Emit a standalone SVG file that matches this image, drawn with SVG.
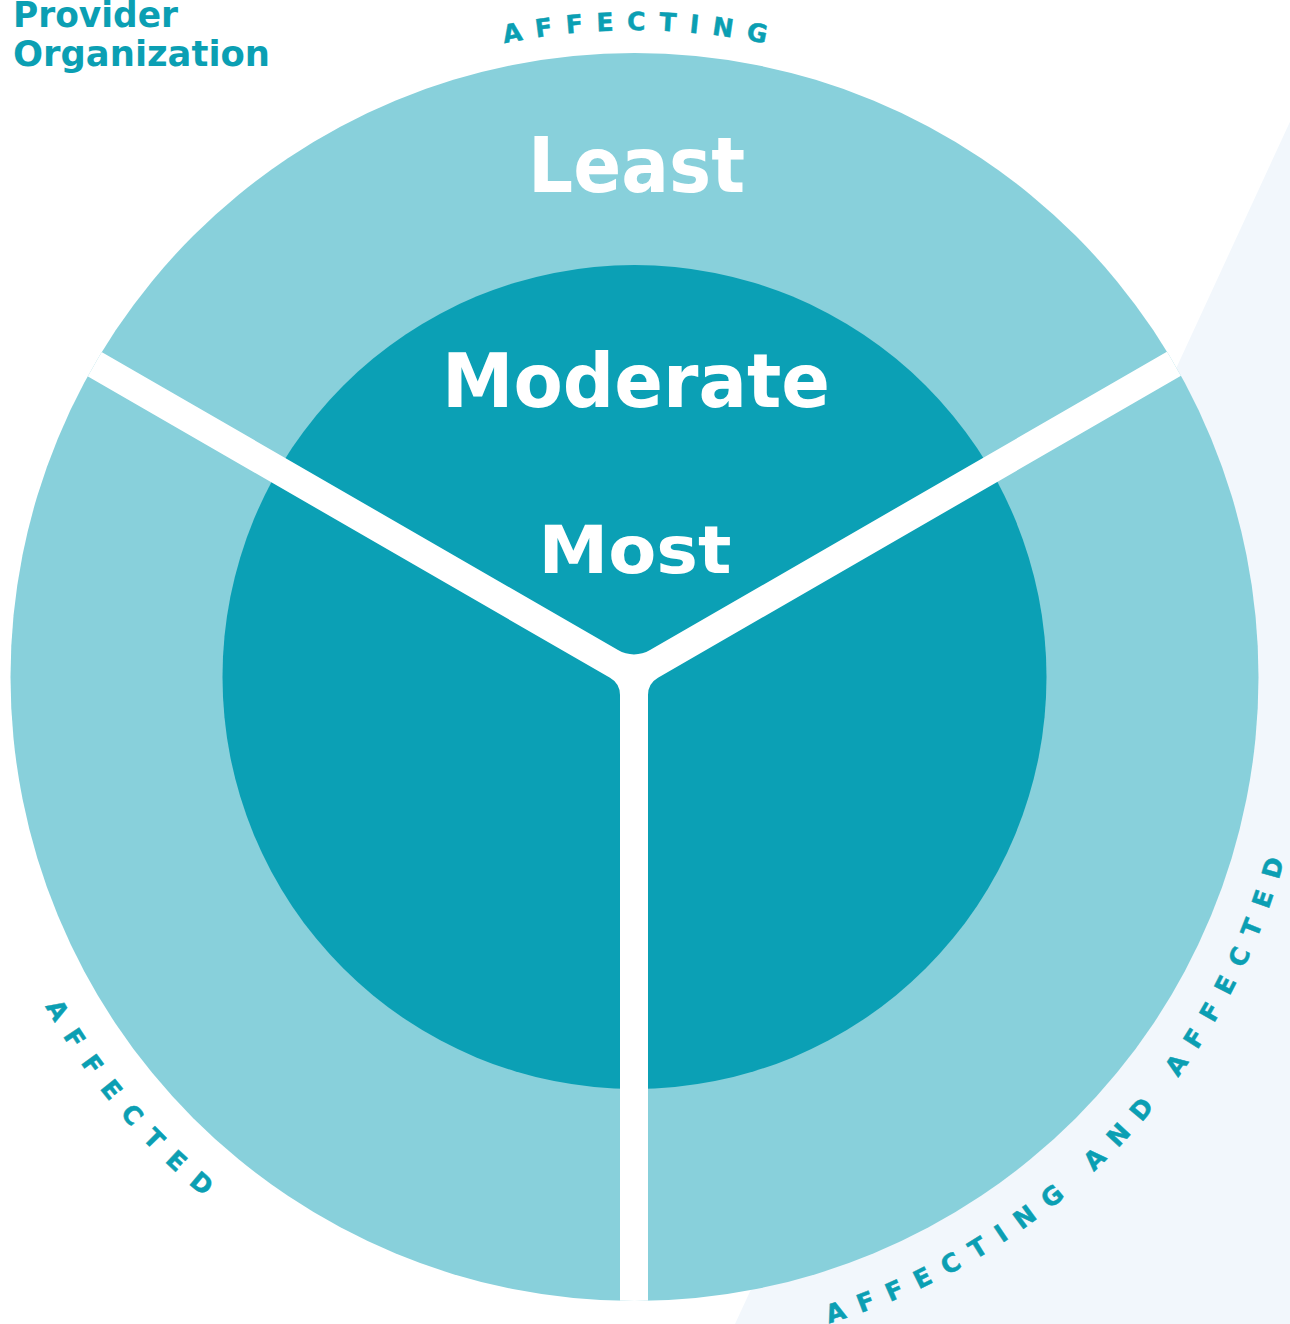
<svg xmlns="http://www.w3.org/2000/svg" width="1290" height="1324" viewBox="0 0 1290 1324">
  <style>
    .ring { fill: #88D0DB; }
    .core { fill: #0BA0B5; }
    .divider { fill: #FFFFFF; }
    .level { fill: #FFFFFF; font-family: "DejaVu Sans", "Liberation Sans", sans-serif; font-weight: 700; text-anchor: middle; }
    .arc-label { fill: #0B9FB3; stroke: #0B9FB3; stroke-width: 0.5; font-family: "DejaVu Sans", "Liberation Sans", sans-serif; font-weight: 700; text-anchor: middle; }
    .title { fill: #0B9FB3; font-family: "DejaVu Sans", "Liberation Sans", sans-serif; font-weight: 700; font-size: 35px; }
  </style>
  <defs>
    <clipPath id="disc-clip">
      <circle cx="634.5" cy="677" r="624"/>
    </clipPath>
    <!-- baselines for the curved labels -->
    <path id="arc-top" d="M -12.5,677 A 647,647 0 0 1 1281.5,677" fill="none"/>
    <path id="arc-lower-left" d="M -40.5,677 A 675,675 0 0 0 634.5,1352" fill="none"/>
    <path id="arc-lower-right" d="M 634.5,1352 A 675,675 0 0 0 1309.5,677" fill="none"/>
  </defs>

  <rect width="1290" height="1324" fill="#FFFFFF"/>

  <!-- pale backdrop wedge on the right -->
  <g id="backdrop">
    <polygon points="1290,121.7 1290,1324 735,1324" fill="#F2F7FC"/>
  </g>

  <g id="outer-ring">
    <circle class="ring" cx="634.5" cy="677" r="624"/>
  </g>

  <g id="inner-core">
    <circle class="core" cx="634.5" cy="677" r="412"/>
  </g>

  <!-- Y-shaped gaps splitting the disc into three sectors -->
  <g id="dividers" clip-path="url(#disc-clip)">
    <path class="divider" d="M34.8,313.4 L618,650.1 A32,32 0 0 0 650,650.1 L1233.2,313.4 L1247.2,337.6 L658,677.8 A20,20 0 0 0 648,695.1 L648,1400 L620,1400 L620,695.1 A20,20 0 0 0 610,677.8 L20.8,337.6 Z"/>
  </g>

  <g id="level-labels">
    <text class="level" x="636.5" y="192" font-size="76" textLength="217" lengthAdjust="spacingAndGlyphs">Least</text>
    <text class="level" x="636" y="407" font-size="74" textLength="388" lengthAdjust="spacingAndGlyphs">Moderate</text>
    <text class="level" x="635" y="573" font-size="66" textLength="193" lengthAdjust="spacingAndGlyphs">Most</text>
  </g>

  <g id="arc-labels">
    <text class="arc-label" font-size="25" letter-spacing="13.3"><textPath href="#arc-top" startOffset="1023">AFFECTING</textPath></text>
    <text class="arc-label" font-size="25" letter-spacing="15.1"><textPath href="#arc-lower-left" startOffset="476">AFFECTED</textPath></text>
    <text class="arc-label" font-size="25" letter-spacing="14.2"><textPath href="#arc-lower-right" startOffset="543">AFFECTING AND AFFECTED</textPath></text>
  </g>

  <g id="provider-label">
    <text class="title" x="13" y="26.5" textLength="165" lengthAdjust="spacingAndGlyphs">Provider</text>
    <text class="title" x="13" y="65.5" textLength="257" lengthAdjust="spacingAndGlyphs">Organization</text>
  </g>
</svg>
